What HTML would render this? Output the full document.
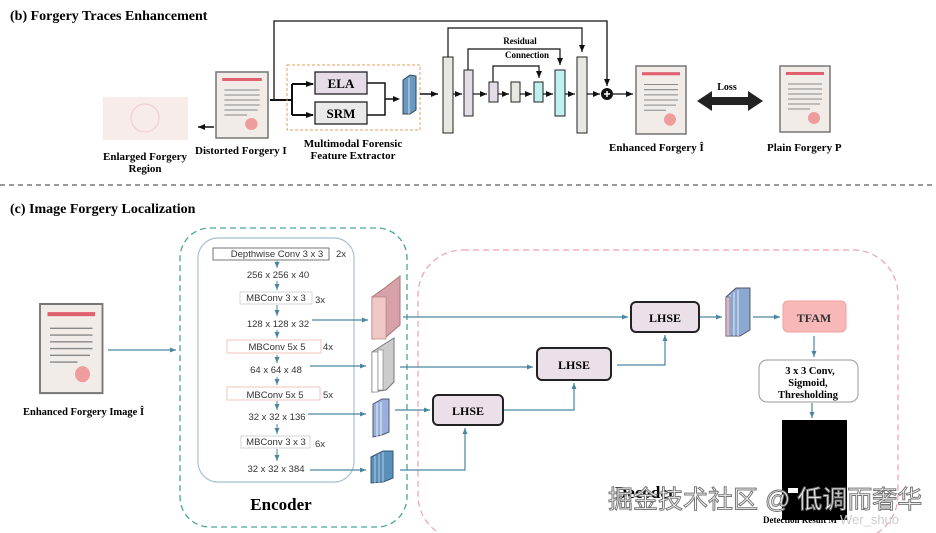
<!DOCTYPE html>
<html><head><meta charset="utf-8"><style>
body{margin:0;background:#fff}
svg{display:block;font-family:"Liberation Serif",serif}
.b{font-weight:bold}
.s{font-family:"Liberation Sans",sans-serif;font-size:9.5px;fill:#333}
</style></head><body>
<svg width="936" height="533" viewBox="0 0 936 533" xmlns="http://www.w3.org/2000/svg">
<defs>
<marker id="ak" markerWidth="8" markerHeight="8" refX="7" refY="4" orient="auto" markerUnits="userSpaceOnUse"><path d="M0,1 L7,4 L0,7z" fill="#111"/></marker>
<marker id="at" markerWidth="7" markerHeight="7" refX="6" refY="3.5" orient="auto" markerUnits="userSpaceOnUse"><path d="M0,1 L6,3.5 L0,6z" fill="#4a86a0"/></marker>
<g id="doc">
<rect x="0" y="0" width="50" height="66" fill="#f2ece8" stroke="#777" stroke-width="1.5"/>
<rect x="6" y="6" width="38" height="3" fill="#e06070"/>
<g stroke="#888" stroke-width="1"><line x1="8" y1="18" x2="42" y2="18"/><line x1="8" y1="23" x2="42" y2="23"/><line x1="8" y1="28" x2="42" y2="28"/><line x1="8" y1="33" x2="42" y2="33"/><line x1="8" y1="38" x2="40" y2="38"/><line x1="8" y1="43" x2="30" y2="43"/></g>
<circle cx="34" cy="52" r="6" fill="#e88" opacity=".8"/>
</g>
</defs>

<!-- Section b -->
<text x="10" y="20" class="b" font-size="14">(b) Forgery Traces Enhancement</text>
<rect x="103" y="97" width="85" height="43" fill="#f7ecea"/>
<circle cx="145" cy="118" r="14" fill="none" stroke="#ecc" />
<text x="145" y="160" class="b" font-size="11" text-anchor="middle">Enlarged Forgery</text>
<text x="145" y="172" class="b" font-size="11" text-anchor="middle">Region</text>
<use href="#doc" transform="translate(216,72) scale(1.04,1)"/>
<line x1="214" y1="127" x2="198" y2="127" stroke="#111" stroke-width="1.5" marker-end="url(#ak)"/>
<text x="195" y="154" class="b" font-size="11">Distorted Forgery  I</text>

<polyline points="274,100 274,21 607,21 607,86" fill="none" stroke="#111" stroke-width="1.3" marker-end="url(#ak)"/>
<path d="M270,100 H292 M292,84 V115 M292,84 H313 M292,115 H313" fill="none" stroke="#111" stroke-width="2"/>
<path d="M306,81 L314,84 L306,87z M306,112 L314,115 L306,118z" fill="#111"/>
<rect x="287" y="65" width="133" height="65" fill="none" stroke="#e0a060" stroke-dasharray="3,2"/>
<rect x="315" y="72" width="52" height="22" fill="#e6dce8" stroke="#222" stroke-width="1.3"/>
<text x="341" y="88" class="b" font-size="13" text-anchor="middle">ELA</text>
<rect x="315" y="102" width="52" height="22" fill="#eaeaea" stroke="#222" stroke-width="1.3"/>
<text x="341" y="118" class="b" font-size="13" text-anchor="middle">SRM</text>
<path d="M367,83 H385 V115 H367 M385,99 H398" fill="none" stroke="#111" stroke-width="1.5"/>
<path d="M393,96 L400,99 L393,102z" fill="#111"/>
<path d="M403,80 L410,75 L416,76 L416,110 L410,114 L403,114z" fill="#6a9ac0" stroke="#345"/>
<line x1="409" y1="78" x2="409" y2="114" stroke="#cde"/>
<text x="353" y="147" class="b" font-size="11" text-anchor="middle">Multimodal Forensic</text>
<text x="353" y="159" class="b" font-size="11" text-anchor="middle">Feature Extractor</text>
<line x1="420" y1="94" x2="438" y2="94" stroke="#111" stroke-width="1.5" marker-end="url(#ak)"/>

<g stroke="#222" stroke-width="1">
<rect x="443" y="57" width="10" height="76" fill="#e8e8e2"/>
<rect x="464" y="70" width="9" height="46" fill="#e4dde8"/>
<rect x="489" y="82" width="9" height="20" fill="#e4dde8"/>
<rect x="511" y="82" width="9" height="20" fill="#e8e8e2"/>
<rect x="534" y="82" width="9" height="20" fill="#bff0f0"/>
<rect x="555" y="70" width="10" height="46" fill="#bff0f0"/>
<rect x="577" y="57" width="10" height="76" fill="#e8e8e2"/>
</g>
<g fill="none" stroke="#111" stroke-width="1.2">
<polyline points="448,57 448,28 582,28 582,52" marker-end="url(#ak)"/>
<polyline points="468,70 468,49 560,49 560,65" marker-end="url(#ak)"/>
<polyline points="493,82 493,66 539,66 539,78" marker-end="url(#ak)"/>
<line x1="453" y1="94" x2="462" y2="94" marker-end="url(#ak)"/>
<line x1="473" y1="94" x2="487" y2="94" marker-end="url(#ak)"/>
<line x1="498" y1="94" x2="509" y2="94" marker-end="url(#ak)"/>
<line x1="520" y1="94" x2="532" y2="94" marker-end="url(#ak)"/>
<line x1="543" y1="94" x2="553" y2="94" marker-end="url(#ak)"/>
<line x1="565" y1="94" x2="575" y2="94" marker-end="url(#ak)"/>
<line x1="587" y1="94" x2="600" y2="94" marker-end="url(#ak)"/>
<line x1="613" y1="94" x2="633" y2="94" marker-end="url(#ak)"/>
</g>
<text x="520" y="44" class="b" font-size="9" text-anchor="middle">Residual</text>
<text x="527" y="58" class="b" font-size="9" text-anchor="middle">Connection</text>
<circle cx="607" cy="94" r="6" fill="#111"/>
<path d="M604,94 H610 M607,91 V97" stroke="#fff" stroke-width="1.5"/>
<use href="#doc" transform="translate(636,66) scale(1,1.03)"/>
<text x="609" y="151" class="b" font-size="11">Enhanced  Forgery  Î</text>
<path d="M697,101 L712,91 L712,97 L748,97 L748,91 L763,101 L748,111 L748,105 L712,105 L712,111z" fill="#222"/>
<text x="727" y="90" class="b" font-size="10" text-anchor="middle">Loss</text>
<use href="#doc" transform="translate(780,66)"/>
<text x="767" y="151" class="b" font-size="11">Plain Forgery  P</text>

<line x1="0" y1="185" x2="936" y2="185" stroke="#333" stroke-dasharray="5,4"/>

<!-- Section c -->
<text x="10" y="213" class="b" font-size="14">(c) Image Forgery Localization</text>
<use href="#doc" transform="translate(40,304) scale(1.25,1.35)"/>
<text x="23" y="415" class="b" font-size="10.5">Enhanced Forgery Image  Î</text>
<line x1="108" y1="350" x2="176" y2="350" stroke="#4a86a0" stroke-width="1.3" marker-end="url(#at)"/>

<rect x="180" y="228" width="227" height="299" rx="30" fill="none" stroke="#4aa39a" stroke-width="1.3" stroke-dasharray="6,4"/>
<rect x="198" y="238" width="156" height="244" rx="20" fill="none" stroke="#a8c0d4" stroke-width="1.2"/>
<rect x="418" y="250" width="480" height="290" rx="45" fill="none" stroke="#f0a0b0" stroke-width="1.2" stroke-dasharray="6,4"/>

<g class="s" text-anchor="middle">
<rect x="213" y="248" width="116" height="12" fill="#fff" stroke="#555" stroke-width=".8"/>
<text x="277" y="257">Depthwise Conv 3 x 3</text><text x="336" y="257" text-anchor="start">2x</text>
<text x="278" y="278">256 x 256 x 40</text>
<rect x="240" y="292" width="72" height="12" fill="#fff" stroke="#ccc" stroke-width=".8"/>
<text x="276" y="301">MBConv 3 x 3</text><text x="315" y="303" text-anchor="start">3x</text>
<text x="278" y="327">128 x 128 x 32</text>
<rect x="227" y="340" width="94" height="13" fill="#fff" stroke="#f0b8a8" stroke-width=".8"/>
<text x="277" y="350">MBConv 5x 5</text><text x="323" y="350" text-anchor="start">4x</text>
<text x="276" y="373">64 x 64 x 48</text>
<rect x="227" y="387" width="93" height="13" fill="#fff" stroke="#f0b8a8" stroke-width=".8"/>
<text x="275" y="398">MBConv 5x 5</text><text x="323" y="398" text-anchor="start">5x</text>
<text x="277" y="420">32 x 32 x 136</text>
<rect x="241" y="436" width="69" height="12" fill="#fff" stroke="#ccc" stroke-width=".8"/>
<text x="276" y="445">MBConv 3 x 3</text><text x="315" y="447" text-anchor="start">6x</text>
<text x="276" y="472">32 x 32 x 384</text>
</g>
<g stroke="#4a86a0" stroke-width="1" marker-end="url(#at)">
<line x1="277" y1="261" x2="277" y2="268"/><line x1="277" y1="281" x2="277" y2="290"/>
<line x1="277" y1="305" x2="277" y2="316"/><line x1="277" y1="330" x2="277" y2="338"/>
<line x1="277" y1="355" x2="277" y2="363"/><line x1="277" y1="377" x2="277" y2="385"/>
<line x1="277" y1="401" x2="277" y2="410"/><line x1="277" y1="424" x2="277" y2="434"/>
<line x1="277" y1="449" x2="277" y2="461"/>
</g>
<g stroke="#4a86a0" stroke-width="1.2" fill="none">
<line x1="312" y1="320" x2="368" y2="320" marker-end="url(#at)"/>
<line x1="310" y1="366" x2="366" y2="366" marker-end="url(#at)"/>
<line x1="308" y1="414" x2="366" y2="414" marker-end="url(#at)"/>
<line x1="310" y1="470" x2="366" y2="470" marker-end="url(#at)"/>
<line x1="403" y1="317" x2="628" y2="317" marker-end="url(#at)"/>
<line x1="400" y1="367" x2="533" y2="367" marker-end="url(#at)"/>
<line x1="395" y1="410" x2="430" y2="410" marker-end="url(#at)"/>
<polyline points="400,470 465,470 465,428" marker-end="url(#at)"/>
<polyline points="503,410 574,410 574,383" marker-end="url(#at)"/>
<polyline points="617,365 665,365 665,335" marker-end="url(#at)"/>
<line x1="700" y1="317" x2="722" y2="317" marker-end="url(#at)"/>
<line x1="753" y1="317" x2="780" y2="317" marker-end="url(#at)"/>
<line x1="814" y1="336" x2="814" y2="357" marker-end="url(#at)"/>
<line x1="812" y1="403" x2="812" y2="418" marker-end="url(#at)"/>
</g>
<!-- feature blocks -->
<path d="M372,297 L386,287 L400,276 L400,325 L386,337 L372,339z" fill="#d8a0a8" stroke="#a77"/>
<rect x="372" y="297" width="14" height="42" fill="#f0c8c8" stroke="#a77" stroke-width=".6"/>
<path d="M372,352 L386,343 L394,338 L394,382 L386,390 L372,392z" fill="#ccc" stroke="#777"/>
<rect x="372" y="352" width="6" height="40" fill="#fff" stroke="#777" stroke-width=".6"/>
<rect x="378" y="350" width="5" height="40" fill="#fff" stroke="#777" stroke-width=".6"/>
<path d="M373,404 L382,399 L389,399 L389,432 L382,435 L373,437z" fill="#9ab0dc" stroke="#557"/>
<g stroke="#fff" stroke-width=".8"><line x1="377" y1="403" x2="377" y2="437"/><line x1="381" y1="402" x2="381" y2="436"/></g>
<path d="M371,457 L383,451 L393,451 L393,478 L383,482 L371,483z" fill="#5a90b8" stroke="#357"/>
<g stroke="#cde" stroke-width=".8"><line x1="375" y1="456" x2="375" y2="483"/><line x1="379" y1="454" x2="379" y2="483"/><line x1="383" y1="452" x2="383" y2="482"/></g>
<path d="M726,297 L736,288 L750,288 L750,330 L740,336 L726,336z" fill="#8aa8d0" stroke="#556"/>
<g stroke="#fff" stroke-width=".8"><line x1="730" y1="295" x2="730" y2="336"/><line x1="734" y1="292" x2="734" y2="336"/><line x1="738" y1="290" x2="738" y2="336"/></g>
<rect x="726" y="297" width="4" height="39" fill="#d8b8c8" stroke="#556" stroke-width=".5"/>

<g stroke="#222" stroke-width="2" fill="#ebe0ea">
<rect x="433" y="395" width="70" height="30" rx="5"/>
<rect x="537" y="348" width="74" height="32" rx="5"/>
<rect x="631" y="302" width="68" height="30" rx="5"/>
</g>
<text x="468" y="415" class="b" font-size="12" text-anchor="middle">LHSE</text>
<text x="574" y="369" class="b" font-size="12" text-anchor="middle">LHSE</text>
<text x="665" y="322" class="b" font-size="12" text-anchor="middle">LHSE</text>
<rect x="783" y="301" width="63" height="31" rx="5" fill="#f8b8b8" stroke="#f0a0a0"/>
<text x="814" y="322" class="b" font-size="12" text-anchor="middle" fill="#333">TFAM</text>
<rect x="759" y="360" width="99" height="42" rx="8" fill="#fff" stroke="#999"/>
<text x="810" y="374" class="b" font-size="10.5" text-anchor="middle">3 x 3 Conv,</text>
<text x="808" y="386" class="b" font-size="10.5" text-anchor="middle">Sigmoid,</text>
<text x="808" y="398" class="b" font-size="10.5" text-anchor="middle">Thresholding</text>
<rect x="782" y="420" width="65" height="100" fill="#000"/>
<rect x="788" y="488" width="10" height="5" fill="#fff"/>
<text x="800" y="523" class="b" font-size="9" text-anchor="middle">Detection Result M</text>
<text x="281" y="510" class="b" font-size="17" text-anchor="middle">Encoder</text>
<text x="615" y="498" class="b" font-size="17">Decoder</text>
<text x="608" y="508" font-family="'Liberation Sans','Noto Sans CJK SC',sans-serif" font-size="25" fill="#fff" stroke="#777" stroke-width="1">掘金技术社区 @ 低调而奢华</text>
<text x="840" y="524" font-family="'Liberation Sans',sans-serif" font-size="13" fill="#ccc">Wer_shuo</text>
</svg>
</body></html>
